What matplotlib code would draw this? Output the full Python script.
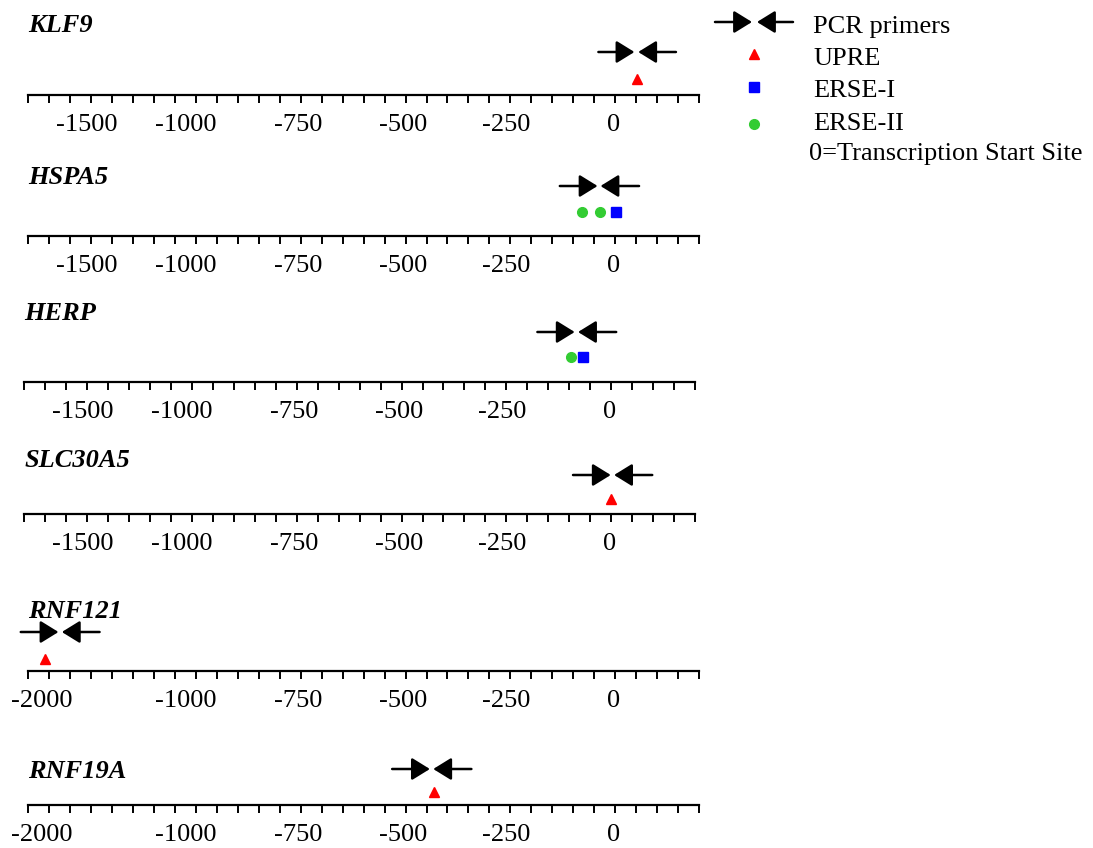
import numpy as np
import matplotlib
matplotlib.use("Agg")
import matplotlib.pyplot as plt
import matplotlib.transforms as mtransforms

plt.rcParams['font.family'] = ['Liberation Serif', 'DejaVu Serif']
plt.rcParams['font.size'] = 19

# ---------------- data (schematic promoter coordinates, 0 = TSS) ----------------
genes = ['KLF9', 'HSPA5', 'HERP', 'SLC30A5', 'RNF121', 'RNF19A']

# tick labels of each schematic axis and where they sit along it
labels_a = ['-1500', '-1000', '-750', '-500', '-250', '0']
labels_b = ['-2000', '-1000', '-750', '-500', '-250', '0']
label_pos_a = [-1260, -1025, -755, -505, -260, -3]
label_pos_b = [-1368, -1025, -755, -505, -260, -3]
row_labels = [labels_a, labels_a, labels_a, labels_a, labels_b, labels_b]
row_label_pos = [label_pos_a, label_pos_a, label_pos_a, label_pos_a, label_pos_b, label_pos_b]

# PCR primers: forward start, forward tip, reverse tip, reverse start
fwd_start = [-40, -132, -176, -91, -1418, -532]
fwd_end = [46, -42, -87, -1, -1328, -442]
rev_end = [55, -35, -79, 7, -1320, -434]
rev_start = [145, 57, 12, 98, -1230, -343]

# regulatory elements
upre = [[51], [], [], [0], [-1360], [-433]]
erse1 = [[], [1], [-66], [], [], []]
erse2 = [[], [-78, -35], [-96], [], [], []]

axis_min, axis_max, tick_step = -1400, 200, 50

# ---------------- layout (pixels) ----------------
W, H = 1093, 848
DPI = 100
axis_y = [95, 236, 382, 514, 671, 805]
x_left = [28.3, 28.3, 24.3, 24.3, 28.3, 28.3]
x_right = [699, 699, 695, 695, 699, 699]
arrow_h = [43, 50, 50, 39, 39, 36]
mark_h = [16, 24, 25, 15, 12, 13]
name_base = [63, 52, 62, 47, 53, 27]
AX_H = 90

RED = '#FF0000'
BLUE = '#0000FF'
GREEN = '#33CC33'

fig = plt.figure(figsize=(W / DPI, H / DPI), dpi=DPI)


def primer(ax, start, tip, y):
    ax.annotate('', xy=(tip, y), xytext=(start, y),
                arrowprops=dict(arrowstyle='-|>,head_length=1.1,head_width=0.68',
                                color='black', lw=1.8, shrinkA=0, shrinkB=0,
                                mutation_scale=10),
                annotation_clip=False)


for i, g in enumerate(genes):
    left = x_left[i] / W
    width = (x_right[i] - x_left[i]) / W
    bottom = (H - axis_y[i]) / H
    ax = fig.add_axes([left, bottom, width, AX_H / H])
    ax.set_xlim(axis_min, axis_max)
    ax.set_ylim(0, AX_H)
    ax.patch.set_alpha(0)
    for s in ['left', 'right', 'top']:
        ax.spines[s].set_visible(False)
    ax.spines['bottom'].set_linewidth(1.6)
    ax.set_yticks([])
    ax.xaxis.remove_overlapping_locs = False
    ax.set_xticks(np.arange(axis_min, axis_max + 1, tick_step), minor=True)
    ax.set_xticks(row_label_pos[i], row_labels[i])
    ax.tick_params(axis='x', which='minor', direction='out', length=6, width=1.4)
    ax.tick_params(axis='x', which='major', length=0, pad=13.5, labelsize=19)

    primer(ax, fwd_start[i], fwd_end[i], arrow_h[i])
    primer(ax, rev_start[i], rev_end[i], arrow_h[i])

    if upre[i]:
        ax.plot(upre[i], [mark_h[i]] * len(upre[i]), linestyle='none', marker='^',
                color=RED, ms=7, clip_on=False)
    if erse1[i]:
        ax.plot(erse1[i], [mark_h[i]] * len(erse1[i]), linestyle='none', marker='s',
                color=BLUE, ms=7, clip_on=False)
    if erse2[i]:
        ax.plot(erse2[i], [mark_h[i]] * len(erse2[i]), linestyle='none', marker='o',
                color=GREEN, ms=7, clip_on=False)

    trans = mtransforms.blended_transform_factory(ax.transAxes, ax.transData)
    ax.text(0, name_base[i], g, transform=trans, ha='left', va='baseline',
            fontsize=19, fontweight='bold', fontstyle='italic')

# ---------------- legend (overlay in pixel space) ----------------
lax = fig.add_axes([0, 0, 1, 1])
lax.set_xlim(0, W)
lax.set_ylim(H, 0)
lax.axis('off')
lax.patch.set_alpha(0)
primer(lax, 715, 752, 22)
primer(lax, 793, 757, 22)
lax.plot([754], [54], linestyle='none', marker='^', color=RED, ms=7)
lax.plot([754], [87], linestyle='none', marker='s', color=BLUE, ms=7)
lax.plot([754], [124], linestyle='none', marker='o', color=GREEN, ms=7)
legend_texts = ['PCR primers', 'UPRE', 'ERSE-I', 'ERSE-II', '0=Transcription Start Site']
legend_x = [812.7, 813, 813, 813, 809]
legend_base = [33, 65, 97, 130, 160]
for t, x, y in zip(legend_texts, legend_x, legend_base):
    lax.text(x, y, t, ha='left', va='baseline', fontsize=19)

fig.savefig('out.png', dpi=DPI)
